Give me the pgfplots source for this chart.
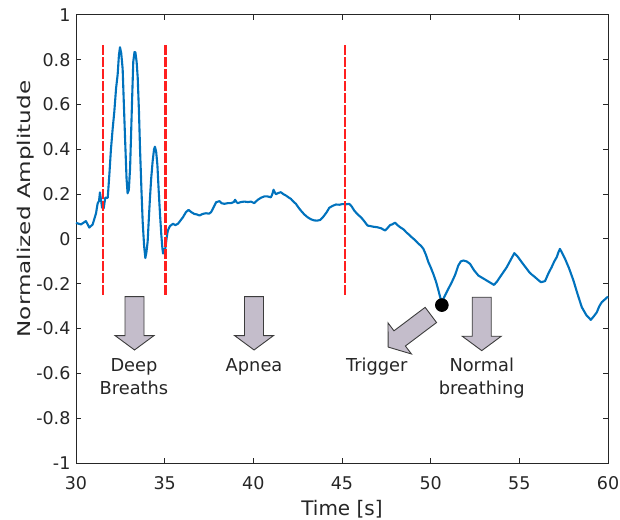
\documentclass[border=0pt]{standalone}
\usepackage{fontspec}
\setmainfont{DejaVu Sans}
\usepackage{pgfplots}
\pgfplotsset{compat=1.18}
\definecolor{axc}{HTML}{262626}
\definecolor{mblue}{HTML}{0072BD}
\definecolor{mred}{HTML}{FF1F1F}
\definecolor{arrfill}{HTML}{C4BDCB}
\definecolor{arrdraw}{HTML}{3C3C3C}
\newcommand{\blockarrow}[2]{%
  \draw[fill=arrfill, draw=arrdraw, line width=0.45pt, line join=miter, shift={(#1)}, rotate=#2]
    (-4.75pt,0pt) -- (4.75pt,0pt) -- (4.75pt,-19.5pt) -- (9.75pt,-19.5pt) -- (0pt,-26.7pt)
    -- (-9.75pt,-19.5pt) -- (-4.75pt,-19.5pt) -- cycle;}
\begin{document}
\begin{tikzpicture}
\begin{axis}[
  scale only axis, width=266pt, height=224pt,
  xmin=30, xmax=60, ymin=-1, ymax=1,
  xtick={30,35,40,45,50,55,60},
  xticklabels={30,35,40,45,50,55,60},
  ytick={-1,-0.8,-0.6,-0.4,-0.2,0,0.2,0.4,0.6,0.8,1},
  yticklabels={-1,-0.8,-0.6,-0.4,-0.2,0,0.2,0.4,0.6,0.8,1},
  tick align=inside, major tick length=2.7pt,
  axis line style={axc, line width=0.5pt},
  tick style={axc, line width=0.5pt},
  ticklabel style={font=\fontsize{8.75}{10}\selectfont, text=axc},
  xticklabel style={yshift=-3.2pt},
  yticklabel style={xshift=0.75pt},
  xlabel={Time [s]},
  xlabel style={font=\fontsize{10}{12}\selectfont, text=axc, at={(axis description cs:0.5,0)}, anchor=base, yshift=-26pt},
  clip=false,
]
\addplot[mblue, line width=1.05pt, line join=round] coordinates {
(30.00,0.072) (30.28,0.065) (30.56,0.080) (30.75,0.051) (30.94,0.065) (31.13,0.115) (31.22,0.159) (31.30,0.170) (31.35,0.208) (31.42,0.170) (31.47,0.140) (31.56,0.137) (31.65,0.184) (31.79,0.184) (31.88,0.286) (31.97,0.40) (32.07,0.494) (32.16,0.568) (32.26,0.673) (32.35,0.735) (32.42,0.82) (32.48,0.856) (32.55,0.83) (32.63,0.76) (32.70,0.60) (32.78,0.42) (32.85,0.27) (32.91,0.204) (32.98,0.22) (33.05,0.316) (33.10,0.45) (33.16,0.613) (33.23,0.792) (33.30,0.835) (33.35,0.833) (33.42,0.79) (33.48,0.72) (33.55,0.57) (33.61,0.405) (33.69,0.22) (33.76,0.077) (33.84,-0.03) (33.91,-0.085) (33.97,-0.06) (34.04,-0.012) (34.10,0.08) (34.17,0.182) (34.24,0.27) (34.32,0.345) (34.40,0.40) (34.45,0.412) (34.52,0.39) (34.59,0.33) (34.66,0.22) (34.74,0.107) (34.81,0.02) (34.87,-0.04) (34.91,-0.065) (34.96,-0.045) (35.00,-0.055) (35.05,-0.035) (35.12,0.01) (35.18,0.038) (35.30,0.058) (35.47,0.068) (35.60,0.062) (35.75,0.068) (36.03,0.097) (36.20,0.12) (36.35,0.13) (36.50,0.12) (36.67,0.112) (36.80,0.11) (36.96,0.105) (37.15,0.112) (37.33,0.115) (37.50,0.113) (37.62,0.12) (37.75,0.14) (37.90,0.164) (38.09,0.169) (38.20,0.16) (38.37,0.157) (38.55,0.16) (38.74,0.16) (38.90,0.165) (38.97,0.175) (39.05,0.165) (39.12,0.16) (39.30,0.165) (39.49,0.167) (39.70,0.165) (39.87,0.167) (40.05,0.16) (40.25,0.175) (40.43,0.184) (40.62,0.19) (40.80,0.19) (40.99,0.186) (41.07,0.20) (41.14,0.22) (41.20,0.21) (41.27,0.20) (41.40,0.205) (41.55,0.209) (41.70,0.20) (41.84,0.194) (42.00,0.185) (42.12,0.179) (42.26,0.167) (42.40,0.157) (42.55,0.14) (42.68,0.127) (42.87,0.11) (43.06,0.097) (43.25,0.088) (43.43,0.083) (43.60,0.082) (43.77,0.085) (43.90,0.095) (44.00,0.105) (44.14,0.12) (44.28,0.139) (44.47,0.148) (44.66,0.154) (44.85,0.153) (45.03,0.156) (45.22,0.155) (45.41,0.157) (45.55,0.145) (45.69,0.127) (45.88,0.11) (46.07,0.097) (46.25,0.08) (46.44,0.06) (46.58,0.058) (46.75,0.055) (46.96,0.053) (47.20,0.048) (47.43,0.038) (47.58,0.05) (47.71,0.062) (47.85,0.066) (47.99,0.073) (48.13,0.062) (48.27,0.053) (48.45,0.044) (48.65,0.028) (48.80,0.018) (48.93,0.008) (49.12,-0.005) (49.31,-0.021) (49.45,-0.03) (49.59,-0.044) (49.73,-0.07) (49.87,-0.103) (50.01,-0.128) (50.15,-0.156) (50.30,-0.19) (50.44,-0.23) (50.52,-0.255) (50.59,-0.275) (50.63,-0.29) (50.70,-0.27) (50.81,-0.252) (51.00,-0.222) (51.19,-0.193) (51.38,-0.16) (51.56,-0.118) (51.70,-0.10) (51.84,-0.096) (52.03,-0.10) (52.22,-0.111) (52.45,-0.14) (52.69,-0.163) (52.88,-0.172) (53.07,-0.181) (53.30,-0.192) (53.57,-0.205) (53.74,-0.19) (53.91,-0.17) (54.10,-0.148) (54.29,-0.126) (54.50,-0.095) (54.72,-0.063) (54.92,-0.08) (55.13,-0.103) (55.35,-0.126) (55.56,-0.148) (55.72,-0.16) (55.88,-0.17) (56.05,-0.182) (56.22,-0.193) (56.45,-0.188) (56.63,-0.155) (56.82,-0.126) (56.97,-0.10) (57.11,-0.081) (57.20,-0.06) (57.29,-0.044) (57.43,-0.065) (57.58,-0.089) (57.80,-0.13) (58.05,-0.185) (58.28,-0.245) (58.52,-0.304) (58.78,-0.34) (59.03,-0.361) (59.20,-0.345) (59.37,-0.327) (59.51,-0.30) (59.65,-0.282) (59.82,-0.27) (60.00,-0.257)
};
\addplot[mred, line width=1.1pt, dash pattern=on 5pt off 1pt] coordinates {(31.5,-0.25) (31.5,0.866)};
\addplot[mred, line width=1.1pt, dash pattern=on 5pt off 1pt] coordinates {(35.05,-0.25) (35.05,0.866)};
\addplot[mred, line width=1.1pt, dash pattern=on 5pt off 1pt] coordinates {(45.17,-0.25) (45.17,0.866)};
\addplot[only marks, mark=*, mark size=3.2pt, black] coordinates {(50.63,-0.295)};
\coordinate (aDeep) at (axis cs:33.30,-0.257);
\coordinate (aApnea) at (axis cs:40.04,-0.257);
\coordinate (aNormal) at (axis cs:52.88,-0.26);
\coordinate (aTrig) at (axis cs:50.01,-0.339);
\coordinate (SW) at (rel axis cs:0,0);
\coordinate (NE) at (rel axis cs:1,1);
\node[anchor=base, text=axc, font=\fontsize{8.9}{10}\selectfont, inner sep=0pt] at (axis cs:33.27,-0.593) {Deep};
\node[anchor=base, text=axc, font=\fontsize{8.9}{10}\selectfont, inner sep=0pt] at (axis cs:33.27,-0.692) {Breaths};
\node[anchor=base, text=axc, font=\fontsize{8.9}{10}\selectfont, inner sep=0pt] at (axis cs:40.04,-0.593) {Apnea};
\node[anchor=base, text=axc, font=\fontsize{8.9}{10}\selectfont, inner sep=0pt] at (axis cs:46.96,-0.593) {Trigger};
\node[anchor=base, text=axc, font=\fontsize{8.9}{10}\selectfont, inner sep=0pt] at (axis cs:52.88,-0.593) {Normal};
\node[anchor=base, text=axc, font=\fontsize{8.9}{10}\selectfont, inner sep=0pt] at (axis cs:52.88,-0.692) {breathing};
\node[rotate=90, text=axc, font=\fontsize{8.75}{10}\selectfont, inner sep=0pt] at (axis cs:27.15,0.134) {\scalebox{1.32}[1]{Normalized Amplitude}};
\end{axis}
\blockarrow{aDeep}{0}
\blockarrow{aApnea}{0}
\blockarrow{aNormal}{0}
\blockarrow{aTrig}{-53}
\pgfresetboundingbox
\path[use as bounding box] ([xshift=-38pt,yshift=-28pt]SW) rectangle ([xshift=6pt,yshift=7.5pt]NE);
\end{tikzpicture}
\end{document}
